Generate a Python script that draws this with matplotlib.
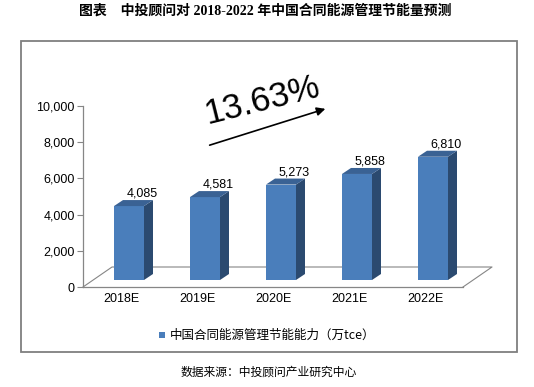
import matplotlib
matplotlib.use("Agg")
import matplotlib.pyplot as plt
from matplotlib.patches import Polygon, Rectangle, FancyArrowPatch

categories = ["2018E", "2019E", "2020E", "2021E", "2022E"]
values = [4085, 4581, 5273, 5858, 6810]
value_labels = ["4,085", "4,581", "5,273", "5,858", "6,810"]
yticks = [0, 2000, 4000, 6000, 8000, 10000]
ytick_labels = ["0", "2,000", "4,000", "6,000", "8,000", "10,000"]
title = "图表　中投顾问对 2018-2022 年中国合同能源管理节能量预测"
legend_label = "中国合同能源管理节能能力（万tce）"
source = "数据来源：中投顾问产业研究中心"
growth = "13.63%"

W, H = 534, 387
fig = plt.figure(figsize=(W / 100, H / 100), dpi=100)

# overlay axes in pixel coordinates
ov = fig.add_axes([0, 0, 1, 1])
ov.set_xlim(0, W)
ov.set_ylim(H, 0)
ov.axis("off")

# main chart axes: x from -0.5..4.5, y 0..10000
px_l, px_r, px_b, px_t = 83, 463, 287, 106
ax = fig.add_axes([px_l / W, (H - px_b) / H, (px_r - px_l) / W, (px_b - px_t) / H])
ax.set_xlim(-0.5, len(categories) - 0.5)
ax.set_ylim(0, 10000)
ax.patch.set_alpha(0)

cat_px = (px_r - px_l) / len(categories)
val_px = (px_b - px_t) / 10000.0

def dx(p):
    return p / cat_px

def dy(p):
    return p / val_px

gray = "#868686"
for s in ["top", "right"]:
    ax.spines[s].set_visible(False)
ax.spines["left"].set_color(gray)
ax.spines["bottom"].set_color(gray)
ax.spines["left"].set_linewidth(0.9)
ax.spines["bottom"].set_linewidth(0.9)

ax.set_yticks(yticks)
ax.set_yticklabels(ytick_labels, fontsize=9, family="Liberation Sans")
ax.tick_params(axis="y", length=4, color=gray, pad=2)
x = list(range(len(categories)))
ax.set_xticks(x)
ax.set_xticklabels(categories, fontsize=9, family="Liberation Sans")
ax.tick_params(axis="x", length=0, pad=4)

# floor outline
FDX, FDY = dx(29), dy(20)
x0, x1 = -0.5, len(categories) - 0.5
ax.plot([x0, x0 + FDX, x1 + FDX, x1], [0, FDY, FDY, 0], color=gray, lw=0.8,
        clip_on=False, zorder=1)

# bars
bw = dx(30)
fdx, fdy = dx(8), dy(7)
ddx, ddy = dx(9), dy(6)
front = "#4A7EBB"
side = "#2B4A70"
topc = "#3A6294"
bars = ax.bar([xi + fdx for xi in x], values, width=bw, bottom=fdy, color=front,
              zorder=3, clip_on=False)
for b, lab in zip(bars, value_labels):
    xl = b.get_x()
    xr = xl + b.get_width()
    yb = b.get_y()
    yt = yb + b.get_height()
    ax.add_patch(Polygon([(xr, yb), (xr + ddx, yb + ddy), (xr + ddx, yt + ddy), (xr, yt)],
                         closed=True, facecolor=side, edgecolor="none", zorder=3, clip_on=False))
    ax.add_patch(Polygon([(xl, yt), (xl + ddx, yt + ddy), (xr + ddx, yt + ddy), (xr, yt)],
                         closed=True, facecolor=topc, edgecolor="none", zorder=3, clip_on=False))
    ax.text(xl + bw / 2 + dx(13), yt + ddy + dy(0.5), lab, ha="center", va="bottom",
            fontsize=9, family="Liberation Sans", zorder=4)

# outer box
ov.add_patch(Rectangle((21, 41), 496, 311, fill=False, edgecolor="#7f7f7f", lw=1.3))

# title
ov.text(265, 11, title, ha="center", va="center", fontsize=10, fontweight="bold",
        family=["Liberation Serif", "Noto Sans CJK SC"])

# growth text and arrow
ov.text(262, 101, growth, ha="center", va="center", fontsize=25, rotation=14,
        family="Liberation Sans", rotation_mode="anchor")
ov.add_patch(FancyArrowPatch((207, 146), (328, 108), arrowstyle="-|>,head_length=5,head_width=2.5",
                             color="black", lw=1.2, mutation_scale=1))

# legend
ov.add_patch(Rectangle((159, 332), 6, 6, facecolor=front, edgecolor="none"))
ov.text(170, 335, legend_label, ha="left", va="center", fontsize=9,
        family=["Noto Sans CJK SC", "DejaVu Sans"])

# source
ov.text(269, 372, source, ha="center", va="center", fontsize=8.5,
        family=["Noto Sans CJK SC", "DejaVu Sans"])

fig.savefig("out.png", dpi=100)
